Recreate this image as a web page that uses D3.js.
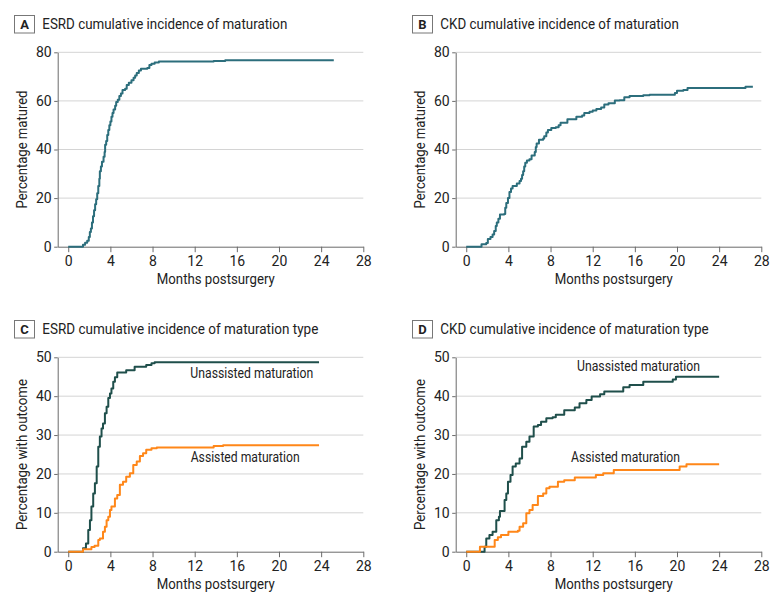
<!DOCTYPE html>
<html>
<head>
<meta charset="utf-8">
<script src="https://cdn.jsdelivr.net/npm/d3@7"></script>
<style>
  body { margin: 0; background: #fff; }
  svg { font-family: Roboto, "Liberation Sans", Arial, sans-serif; }
</style>
</head>
<body>
<svg id="chart" width="780" height="602"></svg>
<script>
// ---------- DATA ----------
const xTicks = [0, 4, 8, 12, 16, 20, 24, 28];
const yTicksAB = [0, 20, 40, 60, 80];
const yTicksCD = [0, 10, 20, 30, 40, 50];

const panelLetters = ["A", "B", "C", "D"];
const panelTitles = [
  "ESRD cumulative incidence of maturation",
  "CKD cumulative incidence of maturation",
  "ESRD cumulative incidence of maturation type",
  "CKD cumulative incidence of maturation type"
];
const yTitles = ["Percentage matured", "Percentage matured", "Percentage with outcome", "Percentage with outcome"];
const xTitle = "Months postsurgery";
const seriesNames = ["Unassisted maturation", "Assisted maturation"];

// Panel A: ESRD overall maturation [month, %]
const esrdMatured = [[0,0],[1.2,0],[1.4,0.8],[1.6,1.6],[1.8,2.5],[1.95,4],[2.05,6],[2.15,7.5],[2.25,10],[2.35,12.5],[2.45,15],[2.55,17.5],[2.65,19.5],[2.75,22],[2.85,25],[2.95,28],[3.0,31],[3.1,33],[3.2,35],[3.35,37],[3.45,39],[3.5,42],[3.6,43.5],[3.7,46],[3.8,48],[3.9,50],[4.0,51.5],[4.1,53.5],[4.2,55],[4.3,56.5],[4.45,58],[4.55,59.5],[4.7,60.5],[4.85,62],[5.0,63],[5.15,64.5],[5.4,65],[5.55,66.5],[5.75,67.5],[6.0,68.5],[6.2,69.5],[6.35,70.5],[6.5,71.5],[6.7,72.5],[6.9,73.2],[7.5,73.5],[7.7,74.8],[7.9,75.3],[8.2,75.8],[8.6,76.2],[13.8,76.4],[14.9,76.7],[25.2,76.7]];

// Panel B: CKD overall maturation
const ckdMatured = [[0,0],[1.3,0],[1.45,1],[1.9,1.5],[2.05,3.2],[2.3,4],[2.5,5],[2.65,6.5],[2.8,8.5],[2.9,10],[3.05,11.5],[3.2,13.3],[3.6,13.5],[3.7,16],[3.8,18],[3.96,20],[4.1,22.5],[4.25,24],[4.4,25],[4.8,26],[5.06,27],[5.2,28],[5.3,29.5],[5.4,31],[5.5,33],[5.6,34.5],[5.76,35.5],[6.0,36],[6.2,37.5],[6.5,39],[6.6,41],[6.68,42.5],[6.9,44],[7.3,44.5],[7.4,45.5],[7.6,47],[7.75,48],[8.07,48.8],[8.5,49.2],[8.77,50],[8.95,51],[9.6,52.5],[10.45,53.5],[11.0,54],[11.2,55],[11.7,55.5],[12.0,56],[12.35,56.7],[12.8,57.3],[13.1,58.5],[13.5,59],[14.1,60.2],[14.55,60.3],[15.0,61.5],[15.5,62],[16.8,62.3],[17.4,62.5],[19.8,63.3],[20.0,64.2],[20.6,64.5],[21.0,65.3],[26.5,65.8],[27.2,65.8]];

// Panel C: ESRD by maturation type
const esrdUnassisted = [[0,0],[1.1,0],[1.4,0.9],[1.68,2.1],[1.9,5.6],[2.06,8.1],[2.2,11.6],[2.37,15],[2.53,17.6],[2.7,21.9],[2.85,27],[3.0,29.6],[3.16,31.7],[3.3,33],[3.48,35.6],[3.64,37.3],[3.8,39.5],[3.96,40.7],[4.1,42],[4.27,43.7],[4.43,44.9],[4.65,46.1],[5.5,46.7],[6.3,47.6],[7.4,48],[7.9,48.5],[8.2,48.7],[23.8,48.7]];
const esrdAssisted = [[0,0],[1.1,0],[1.4,0.6],[2.2,1.2],[2.5,1.5],[2.85,3],[3.0,3.4],[3.3,5.1],[3.48,6.4],[3.64,8.1],[3.8,9],[3.96,10.7],[4.1,11.6],[4.43,13.7],[4.65,14.6],[4.9,17.2],[5.2,18],[5.5,19.3],[5.85,20.2],[6.17,22.3],[6.5,23.2],[6.8,24.6],[7.1,25.3],[7.4,26.2],[7.9,26.6],[8.4,26.8],[13.8,27.2],[14.7,27.4],[23.8,27.4]];

// Panel D: CKD by maturation type
const ckdUnassisted = [[0,0],[1.6,0],[1.74,1.3],[1.9,3.4],[2.2,4.3],[2.5,5.1],[2.85,8.1],[3.1,9],[3.2,10.5],[3.64,13.3],[3.8,15],[3.96,18],[4.2,19.7],[4.4,21.9],[4.7,22.7],[5.06,24],[5.3,27],[5.7,28.3],[6.0,29.6],[6.4,32.2],[6.8,32.6],[7.1,33.4],[7.6,34.3],[8.2,34.6],[8.5,35.2],[9.3,36.4],[10.3,37.1],[10.75,38.2],[11.4,39],[11.9,39.9],[12.7,40.5],[13.1,41.2],[14.9,42.3],[15.5,42.9],[16.8,43.7],[19.6,44.3],[19.9,45],[24.0,45]];
const ckdAssisted = [[0,0],[1.2,0],[1.3,1.3],[2.4,1.3],[2.7,3],[3.0,3.7],[3.3,4.3],[4.0,5.1],[4.9,5.4],[5.06,6.4],[5.4,7.3],[5.7,9.9],[6.0,10.7],[6.3,12],[6.8,14.3],[7.3,15],[7.6,16.3],[7.9,16.7],[8.7,18],[9.3,18.4],[10.3,19.1],[12.3,19.7],[13.0,20.2],[14.0,21],[20.25,21.9],[20.9,22.5],[24.0,22.5]];

// ---------- DRAWING ----------
const svg = d3.select("#chart");
const colSingle = "#2c6e7c";
const colUnassisted = "#1f4f4b";
const colAssisted = "#ff8719";
const txt = "#222";
const FONT = "Roboto, 'Liberation Sans', Arial, sans-serif";

const titleWidths = [245, 238.6, 276, 268.3];
const yTitleWidths = [118, 118, 151, 151];

const panels = [
  { dx: 0,   dy: 0,   yMax: 80, yTicks: yTicksAB, series: [{ data: esrdMatured, color: colSingle }] },
  { dx: 398, dy: 0,   yMax: 80, yTicks: yTicksAB, series: [{ data: ckdMatured, color: colSingle }] },
  { dx: 0,   dy: 305, yMax: 50, yTicks: yTicksCD,
    series: [{ data: esrdUnassisted, color: colUnassisted }, { data: esrdAssisted, color: colAssisted }],
    labels: [{ text: seriesNames[0], x: 190.3, y: 377.5, w: 123 }, { text: seriesNames[1], x: 190.7, y: 462, w: 109 }] },
  { dx: 398, dy: 305, yMax: 50, yTicks: yTicksCD,
    series: [{ data: ckdUnassisted, color: colUnassisted }, { data: ckdAssisted, color: colAssisted }],
    labels: [{ text: seriesNames[0], x: 577, y: 371, w: 123 }, { text: seriesNames[1], x: 571, y: 462, w: 109 }] }
];

const pLeft = 57.7, pRight = 363.3, pTop = 52.3, pBottom = 246.7;

panels.forEach((p, i) => {
  const g = svg.append("g").attr("transform", `translate(${p.dx},${p.dy})`);
  const x = d3.scaleLinear().domain([-1, 28]).range([pLeft, pRight]);
  const y = d3.scaleLinear().domain([0, p.yMax]).range([pBottom, pTop]);

  // gridlines
  g.append("g").selectAll("line").data(p.yTicks.filter(t => t > 0)).join("line")
    .attr("x1", pLeft).attr("x2", pRight)
    .attr("y1", d => y(d)).attr("y2", d => y(d))
    .attr("stroke", "#d4d4d4").attr("stroke-width", 1);

  // y axis
  const ya = g.append("g").attr("transform", `translate(${pLeft},0)`)
    .call(d3.axisLeft(y).tickValues(p.yTicks).tickSize(3.5).tickPadding(2.5).tickSizeOuter(0));
  ya.select(".domain").attr("stroke", "#6b6b6b");
  ya.selectAll(".tick line").attr("stroke", "#6b6b6b");
  ya.selectAll("text").attr("font-size", 14).attr("fill", txt).attr("font-family", FONT);

  // x axis
  const xa = g.append("g").attr("transform", `translate(0,${pBottom})`)
    .call(d3.axisBottom(x).tickValues(xTicks).tickSize(5.5).tickPadding(3.5).tickSizeOuter(0));
  xa.select(".domain").attr("stroke", "#6b6b6b");
  xa.selectAll(".tick line").attr("stroke", "#6b6b6b");
  xa.selectAll("text").attr("font-size", 14).attr("fill", txt).attr("font-family", FONT);

  // axis titles
  g.append("text").attr("x", (x(0) + x(28)) / 2).attr("y", 283.5)
    .attr("text-anchor", "middle").attr("font-size", 14).attr("fill", txt)
    .attr("textLength", 118).attr("lengthAdjust", "spacingAndGlyphs").text(xTitle);
  g.append("text").attr("transform", `translate(26.5,${(pTop + pBottom) / 2}) rotate(-90)`)
    .attr("text-anchor", "middle").attr("font-size", 14).attr("fill", txt)
    .attr("textLength", yTitleWidths[i]).attr("lengthAdjust", "spacingAndGlyphs").text(yTitles[i]);

  // panel letter box + title
  g.append("rect").attr("x", 14.5).attr("y", 15.5).attr("width", 20).attr("height", 17.5)
    .attr("fill", "#fff").attr("stroke", "#777").attr("stroke-width", 1);
  g.append("text").attr("x", 24.5).attr("y", 29).attr("text-anchor", "middle")
    .attr("font-size", 13).attr("font-weight", "bold").attr("fill", txt).text(panelLetters[i]);
  g.append("text").attr("x", 42.3).attr("y", 29).attr("font-size", 15).attr("fill", txt)
    .attr("textLength", titleWidths[i]).attr("lengthAdjust", "spacingAndGlyphs").text(panelTitles[i]);

  // curves
  const line = d3.line().x(d => x(d[0])).y(d => y(d[1])).curve(d3.curveStepAfter);
  p.series.forEach(s => {
    g.append("path").datum(s.data).attr("d", line)
      .attr("fill", "none").attr("stroke", s.color).attr("stroke-width", 2)
      .attr("stroke-linejoin", "round");
  });

  // series labels
  if (p.labels) {
    p.labels.forEach(l => {
      svg.append("text").attr("x", l.x).attr("y", l.y).attr("font-size", 14).attr("fill", txt)
        .attr("textLength", l.w).attr("lengthAdjust", "spacingAndGlyphs").text(l.text);
    });
  }
});
</script>
</body>
</html>
